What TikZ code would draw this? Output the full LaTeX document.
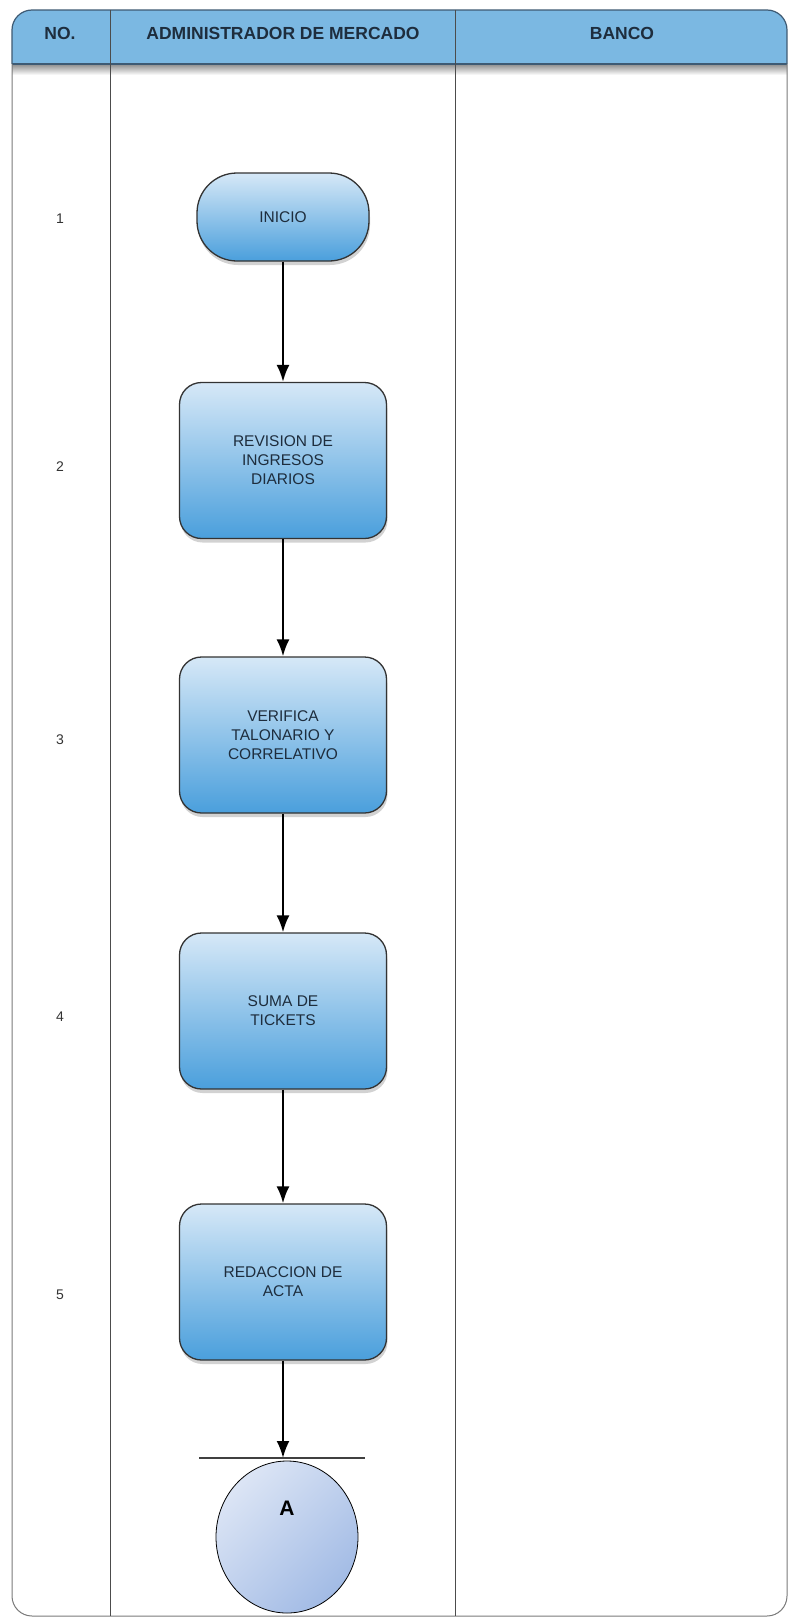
\documentclass[tikz,border=0pt]{standalone}
\usepackage{fontspec}
\setmainfont{Liberation Sans}
\usetikzlibrary{arrows.meta,shadows,shapes.geometric}

\definecolor{hdr}{HTML}{7BB8E2}
\definecolor{hdrline}{HTML}{3E5A73}
\definecolor{boxtop}{HTML}{D6E8F7}
\definecolor{boxbot}{HTML}{4A9FDC}
\definecolor{txt}{HTML}{1E2D3D}
\definecolor{framec}{HTML}{7A7A7A}
\definecolor{circA}{HTML}{DCE5F5}
\definecolor{circB}{HTML}{A2BBE5}

\begin{document}
\begin{tikzpicture}[x=1pt,y=-1pt,
  procbox/.style={draw=black!80, line width=1.3pt, rounded corners=22pt,
    minimum width=207pt, minimum height=156pt,
    top color=boxtop, bottom color=boxbot, align=center, text=txt,
    font=\fontsize{15.5}{19}\selectfont,
    drop shadow={opacity=0.35, shadow xshift=1pt, shadow yshift=-4pt}},
  startbox/.style={procbox, rounded corners=40pt, minimum width=172pt, minimum height=88pt},
  flowarrow/.style={line width=2.2pt, -{Latex[length=17pt,width=13pt]}},
  hdrtext/.style={font=\bfseries\fontsize{17.5}{17.5}\selectfont, text=txt},
  rownum/.style={font=\fontsize{14}{14}\selectfont, text=black!80},
  connA/.style={ellipse, draw=black, line width=0.8pt, minimum width=142pt, minimum height=152pt, inner sep=0pt,
    top color=circA, bottom color=circB, shading angle=45}
]
\useasboundingbox (0,0) rectangle (788,1619);
\fill[white] (0,0) rectangle (788,1619);

% header band
\begin{scope}
\clip[rounded corners=20pt] (12,10) rectangle (787,1616);
\fill[hdr] (12,10) rectangle (787,64);
\shade[top color=black!45, bottom color=white] (12,64) rectangle (787,75);
\end{scope}
\draw[hdrline, line width=1.2pt, rounded corners=20pt] (12,64) -- (12,10) -- (787,10) -- (787,64);
\draw[hdrline, line width=1.2pt] (12,64) -- (787,64);
\draw[framec, line width=1pt, rounded corners=20pt] (12,64) -- (12,1616) -- (787,1616) -- (787,64);

% column dividers
\draw[black!70, line width=1pt] (110.5,10) -- (110.5,1616);
\draw[black!70, line width=1pt] (455.5,10) -- (455.5,1616);

% header labels
\node[hdrtext] (hno) at (60,33) {NO.};
\node[hdrtext] (hadm) at (283,33) {ADMINISTRADOR DE MERCADO};
\node[hdrtext] (hban) at (622,33) {BANCO};

% row numbers
\node[rownum] (r1) at (60,219) {1};
\node[rownum] (r2) at (60,467) {2};
\node[rownum] (r3) at (60,740) {3};
\node[rownum] (r4) at (60,1017) {4};
\node[rownum] (r5) at (60,1295) {5};

% flow nodes
\node[startbox] (inicio) at (283,217) {INICIO};
\node[procbox] (rev) at (283,460.5) {REVISION DE\\INGRESOS\\DIARIOS};
\node[procbox] (ver) at (283,735) {VERIFICA\\TALONARIO Y\\CORRELATIVO};
\node[procbox] (suma) at (283,1011) {SUMA DE\\TICKETS};
\node[procbox] (red) at (283,1282) {REDACCION DE\\ACTA};

% off-page connector
\coordinate (barL) at (199,1458);
\coordinate (barR) at (365,1458);
\draw[black!75, line width=1.3pt] (barL) -- (barR);
\node[connA] (A) at (287,1537) {};
\node[font=\bfseries\fontsize{21}{21}\selectfont, text=black] (Alabel) at (287,1508) {A};

% connectors
\draw[flowarrow] (inicio) -- (rev);
\draw[flowarrow] (rev) -- (ver);
\draw[flowarrow] (ver) -- (suma);
\draw[flowarrow] (suma) -- (red);
\draw[flowarrow] (red.south) -- (red.south |- barL);
\end{tikzpicture}
\end{document}
